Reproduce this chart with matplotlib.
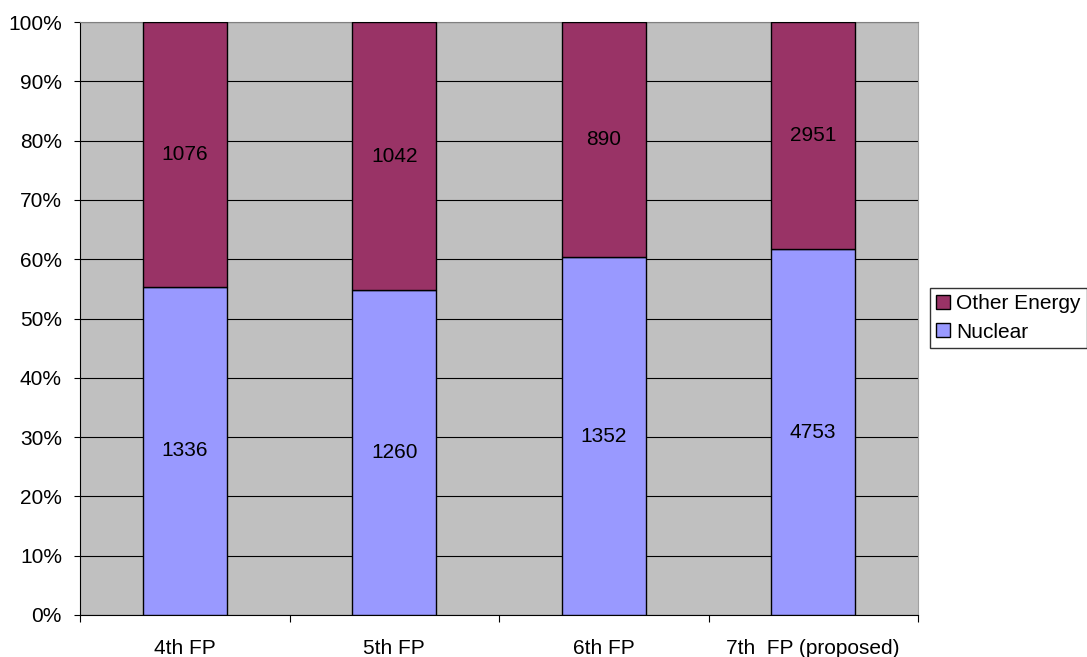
import matplotlib.pyplot as plt
import numpy as np

plt.rcParams['font.family'] = ['Liberation Sans', 'DejaVu Sans']

categories = ["4th FP", "5th FP", "6th FP", "7th  FP (proposed)"]
nuclear = [1336, 1260, 1352, 4753]
other_energy = [1076, 1042, 890, 2951]

nuc = np.array(nuclear, dtype=float)
oth = np.array(other_energy, dtype=float)
tot = nuc + oth
nuc_pct = nuc / tot * 100
oth_pct = oth / tot * 100

fs = 15

fig = plt.figure(figsize=(10.87, 6.57), dpi=100)
ax = fig.add_axes([80/1087, 1-615/657, (918-80)/1087, (615-22)/657])
ax.set_facecolor('#C0C0C0')

x = np.arange(len(categories))
w = 0.4
b1 = ax.bar(x, nuc_pct, w, color='#9999FF', edgecolor='black', linewidth=1, label='Nuclear', zorder=3)
b2 = ax.bar(x, oth_pct, w, bottom=nuc_pct, color='#993366', edgecolor='black', linewidth=1,
            label='Other Energy', zorder=3)

for i in range(len(categories)):
    ax.text(x[i], nuc_pct[i] / 2, str(nuclear[i]), ha='center', va='center', fontsize=fs, zorder=4)
    ax.text(x[i], nuc_pct[i] + oth_pct[i] / 2, str(other_energy[i]), ha='center', va='center',
            fontsize=fs, zorder=4)

ax.set_xlim(-0.5, len(categories) - 0.5)
ax.set_ylim(0, 100)
ax.set_yticks(np.arange(0, 101, 10))
ax.set_yticklabels([f"{v}%" for v in range(0, 101, 10)], fontsize=fs)
ax.yaxis.grid(True, color='black', linewidth=0.8, zorder=1)
ax.set_axisbelow(True)

ax.set_xticks(np.arange(-0.5, len(categories), 1.0))
ax.set_xticklabels([])
ax.set_xticks(x, minor=True)
ax.set_xticklabels(categories, minor=True, fontsize=fs)
ax.tick_params(axis='x', which='minor', length=0, pad=17)
ax.tick_params(axis='x', which='major', length=5, direction='out', color='black')
ax.tick_params(axis='y', length=4.5, direction='out', pad=8.5)

ax.spines['left'].set_color('black')
ax.spines['bottom'].set_color('black')
ax.spines['top'].set_color('#808080')
ax.spines['right'].set_color('#A0A0A0')

handles = [b2, b1]
leg = fig.legend(handles, ['Other Energy', 'Nuclear'], loc='upper left',
                 bbox_to_anchor=(930/1087, 1-288/657), fontsize=fs, frameon=True,
                 fancybox=False, edgecolor='black', handlelength=0.65, handleheight=0.65,
                 handletextpad=0.3, borderpad=0.3, labelspacing=0.45, borderaxespad=0)
leg.get_frame().set_linewidth(1)

fig.savefig('out.png', dpi=100)
